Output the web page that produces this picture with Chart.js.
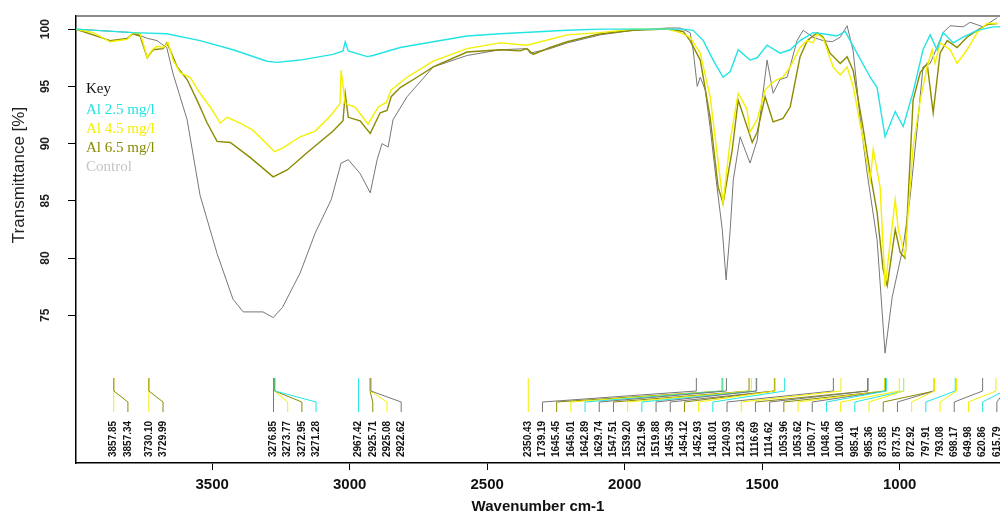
<!DOCTYPE html>
<html>
<head>
<meta charset="utf-8">
<script src="https://cdn.jsdelivr.net/npm/chart.js@4/dist/chart.umd.min.js"></script>
<style>
  html, body { margin: 0; padding: 0; background: #fff; }
  #wrap { width: 1000px; height: 516px; }
</style>
</head>
<body>
<div id="wrap"><canvas id="ftir" width="1000" height="516"></canvas></div>
<script>
// spectra (wavenumber cm-1 / transmittance %)
const cyanWn = [3995, 3788, 3665, 3544, 3424, 3300, 3264, 3180, 3060, 3024, 3016, 3005, 2936, 2915, 2816, 2696, 2573, 2453, 2209, 2089, 1907, 1787, 1751, 1714, 1678, 1642, 1616, 1587, 1544, 1518, 1482, 1435, 1398, 1362, 1315, 1278, 1228, 1198, 1155, 1107, 1082, 1053, 1016, 987, 951, 915, 889, 864, 842, 805, 769, 718, 660, 635]
const cyanT = [100, 99.7, 99.6, 99.0, 98.2, 97.2, 97.1, 97.3, 97.8, 98.1, 98.9, 98.1, 97.6, 97.7, 98.4, 98.9, 99.4, 99.6, 99.9, 100, 100, 100, 99.9, 99.0, 97.3, 95.8, 96.3, 98.2, 97.3, 97.5, 98.6, 97.9, 98.2, 99.0, 99.7, 99.6, 99.4, 99.8, 97.9, 95.8, 94.9, 90.6, 92.8, 91.5, 94.5, 98.2, 99.5, 98.2, 99.7, 98.8, 99.3, 99.9, 100.2, 100.2]

const yellowWn = [3995, 3933, 3871, 3809, 3788, 3762, 3751, 3736, 3718, 3700, 3678, 3660, 3642, 3616, 3580, 3544, 3507, 3471, 3445, 3398, 3353, 3302, 3273, 3244, 3180, 3125, 3067, 3035, 3031, 3016, 2980, 2933, 2896, 2867, 2849, 2791, 2696, 2573, 2453, 2355, 2209, 2089, 1969, 1845, 1798, 1762, 1725, 1689, 1664, 1642, 1616, 1587, 1555, 1544, 1518, 1489, 1464, 1445, 1424, 1398, 1362, 1336, 1315, 1300, 1278, 1242, 1216, 1191, 1169, 1133, 1107, 1096, 1071, 1053, 1016, 1005, 980, 969, 951, 925, 900, 882, 871, 853, 816, 791, 755, 718, 682, 645]
const yellowT = [100, 99.7, 98.9, 99.1, 99.7, 99.6, 98.8, 97.5, 98.2, 98.5, 98.4, 98.8, 97.3, 96.2, 95.8, 94.4, 93.2, 91.8, 92.3, 91.8, 91.2, 90.0, 89.3, 89.6, 90.6, 91.1, 92.5, 93.5, 96.4, 93.5, 93.2, 91.7, 93.2, 93.6, 94.7, 95.8, 97.2, 98.3, 98.8, 98.6, 99.5, 99.7, 100, 100, 99.7, 99.3, 97.9, 94.1, 89.2, 84.8, 90.3, 94.4, 93.0, 91.0, 92.1, 94.7, 95.3, 95.6, 95.8, 96.7, 98.4, 99.0, 98.8, 99.6, 99.2, 96.7, 96.0, 96.7, 95.0, 90.4, 86.8, 89.5, 86.2, 77.5, 85.1, 82.5, 80.2, 84.0, 89.7, 93.8, 96.7, 98.2, 97.0, 98.8, 98.2, 97.0, 98.2, 99.7, 100.5, 100.5]

const oliveWn = [3995, 3871, 3809, 3788, 3762, 3736, 3715, 3678, 3665, 3653, 3627, 3591, 3555, 3518, 3482, 3434, 3362, 3278, 3227, 3155, 3060, 3024, 3016, 3005, 2962, 2925, 2889, 2864, 2849, 2816, 2755, 2696, 2573, 2453, 2380, 2355, 2333, 2271, 2209, 2089, 1969, 1845, 1787, 1762, 1725, 1689, 1660, 1642, 1609, 1587, 1555, 1536, 1518, 1489, 1460, 1424, 1398, 1362, 1336, 1300, 1278, 1253, 1216, 1191, 1169, 1133, 1107, 1082, 1060, 1045, 1016, 998, 980, 951, 925, 900, 878, 853, 827, 791, 755, 718, 682, 645]
const oliveT = [100, 99.0, 99.2, 99.6, 99.4, 97.5, 98.2, 98.3, 98.8, 98.2, 96.7, 95.6, 93.8, 91.8, 90.2, 90.1, 88.8, 87.1, 87.7, 89.2, 91.1, 92.0, 94.4, 92.3, 92.0, 90.9, 92.7, 92.9, 94.1, 94.9, 95.8, 96.7, 98.0, 98.2, 98.1, 98.3, 97.8, 98.4, 98.9, 99.6, 99.9, 100, 99.8, 99.0, 97.3, 92.3, 86.2, 84.8, 89.4, 93.8, 91.5, 90.1, 91.0, 94.1, 91.9, 92.2, 93.2, 97.6, 99.0, 99.7, 99.3, 97.9, 97.0, 97.6, 96.4, 91.4, 87.4, 84.0, 79.0, 77.6, 82.5, 80.5, 80.0, 93.8, 96.2, 97.0, 92.7, 97.9, 99.0, 98.4, 99.3, 99.9, 100.4, 100.5]

const controlWn = [3995, 3788, 3736, 3700, 3678, 3665, 3642, 3591, 3544, 3482, 3424, 3387, 3315, 3278, 3244, 3180, 3125, 3067, 3031, 3005, 2962, 2925, 2900, 2882, 2860, 2842, 2791, 2696, 2573, 2453, 2355, 2344, 2271, 2209, 2089, 1969, 1845, 1798, 1762, 1751, 1736, 1725, 1707, 1689, 1664, 1645, 1631, 1616, 1605, 1580, 1544, 1518, 1482, 1460, 1435, 1409, 1373, 1351, 1315, 1278, 1245, 1216, 1191, 1169, 1144, 1118, 1082, 1053, 1027, 987, 962, 936, 915, 889, 864, 842, 816, 769, 744, 696, 645]
const controlT = [100, 99.7, 99.2, 99.0, 98.6, 98.4, 96.1, 92.1, 85.5, 80.4, 76.4, 75.3, 75.3, 74.8, 75.7, 78.7, 82.2, 85.1, 88.3, 88.6, 87.4, 85.7, 88.6, 90.0, 89.7, 92.1, 94.1, 96.7, 97.7, 98.2, 98.3, 97.9, 98.3, 98.8, 99.5, 99.9, 100.1, 100.1, 99.7, 98.2, 95.0, 95.8, 94.7, 91.4, 86.2, 82.5, 78.1, 82.5, 86.8, 90.6, 88.3, 90.3, 97.3, 94.4, 95.6, 95.8, 99.0, 99.9, 99.3, 99.0, 98.9, 99.3, 100.3, 98.1, 92.3, 87.4, 81.6, 71.7, 76.6, 81.0, 85.3, 91.4, 96.7, 97.0, 98.4, 99.7, 100.3, 100.2, 100.6, 100.2, 101.0]

const seriesNames = ['Al 2.5 mg/l', 'Al 4.5 mg/l', 'Al 6.5 mg/l', 'Control']
const seriesColors = ['#22e4e4', '#f4f000', '#8b8b00', '#777777']
const legendColors = ['#22e4e4', '#f4f000', '#8b8b00', '#c4c4c4']

const xTicks = [3500, 3000, 2500, 2000, 1500, 1000]
const yTicks = [75, 80, 85, 90, 95, 100]

// picked peaks, grouped the way the labels are spread; series index per peak
const peakGroups = [
  [3857.85, 3857.34],
  [3730.10, 3729.99],
  [3276.85, 3273.77, 3272.95, 3271.28],
  [2967.42, 2925.71, 2925.08, 2922.62],
  [2350.43, 1739.19, 1645.45, 1645.01, 1642.89, 1629.74, 1547.51, 1539.20, 1521.96, 1519.88, 1455.39, 1454.12, 1452.93, 1418.01, 1240.93, 1213.26, 1116.69, 1114.62, 1053.96, 1053.62, 1050.77, 1048.45, 1001.08, 985.41, 985.36, 873.85, 873.75, 872.92, 797.91, 793.08, 698.17, 649.98, 620.86, 615.79],
]
const peakSeries = [
  [1, 2],
  [1, 2],
  [3, 1, 2, 0],
  [0, 2, 1, 3],
  [1, 3, 2, 1, 0, 3, 2, 1, 0, 3, 3, 2, 1, 0, 3, 1, 2, 3, 2, 1, 3, 0, 1, 0, 1, 2, 3, 1, 0, 1, 3, 1, 0, 3],
]

const toPoints = (wn, t) => wn.map((w, i) => ({ x: w, y: t[i] }))
const spectra = [toPoints(cyanWn, cyanT), toPoints(yellowWn, yellowT), toPoints(oliveWn, oliveT), toPoints(controlWn, controlT)]

// R style extras: y labels, key, peak labels, top frame line
const extras = {
  id: 'extras',
  afterDraw(chart) {
    const ctx = chart.ctx
    const area = chart.chartArea
    const xs = chart.scales.x
    const ys = chart.scales.y
    ctx.save()

    ctx.strokeStyle = '#666'
    ctx.lineWidth = 1.5
    ctx.beginPath()
    ctx.moveTo(area.left, area.top)
    ctx.lineTo(area.right, area.top)
    ctx.stroke()

    // y tick labels, rotated
    ctx.fillStyle = '#222'
    ctx.font = 'bold 12px "Liberation Sans", Arial'
    ctx.textAlign = 'center'
    ctx.textBaseline = 'middle'
    yTicks.forEach(v => {
      ctx.save()
      ctx.translate(46, ys.getPixelForValue(v))
      ctx.rotate(-Math.PI / 2)
      ctx.fillText(String(v), 0, 0)
      ctx.restore()
    })

    // y title
    ctx.save()
    ctx.translate(19, 175)
    ctx.rotate(-Math.PI / 2)
    ctx.font = '17px "Liberation Sans", Arial'
    ctx.fillText('Transmittance [%]', 0, 0)
    ctx.restore()

    // key
    ctx.textAlign = 'left'
    ctx.font = '15px "Liberation Serif", "Times New Roman", serif'
    ctx.fillStyle = '#111'
    ctx.fillText('Key', 86, 89)
    seriesNames.forEach((n, i) => {
      ctx.fillStyle = legendColors[i]
      ctx.fillText(n, 86, 110 + i * 19)
    })

    // peak labels with leader lines
    const gap = 14.2
    ctx.lineWidth = 1
    ctx.font = 'bold 10px "Liberation Sans", Arial'
    peakGroups.forEach((group, g) => {
      const x0 = xs.getPixelForValue(group[0])
      group.forEach((wn, i) => {
        const px = xs.getPixelForValue(wn)
        const lx = x0 + i * gap
        ctx.strokeStyle = seriesColors[peakSeries[g][i]]
        ctx.beginPath()
        ctx.moveTo(px, 378)
        if (Math.abs(px - lx) < 0.5) {
          ctx.lineTo(lx, 412)
        } else {
          ctx.lineTo(px, 391)
          ctx.lineTo(lx, 402)
          ctx.lineTo(lx, 412)
        }
        ctx.stroke()
        ctx.save()
        ctx.translate(lx, 457)
        ctx.rotate(-Math.PI / 2)
        ctx.fillStyle = '#111'
        ctx.textAlign = 'left'
        ctx.fillText(wn.toFixed(2), 0, 0)
        ctx.restore()
      })
    })
    ctx.restore()
  },
}

new Chart(document.getElementById('ftir'), {
  type: 'line',
  data: {
    datasets: spectra.map((pts, i) => ({
      label: seriesNames[i],
      data: pts,
      borderColor: seriesColors[i],
      borderWidth: i === 3 ? 1 : 1.4,
      pointRadius: 0,
      tension: 0,
      fill: false,
    })),
  },
  options: {
    responsive: false,
    animation: false,
    maintainAspectRatio: false,
    layout: { padding: { left: 0, right: 0, top: 16, bottom: 0 } },
    plugins: { legend: { display: false }, tooltip: { enabled: false } },
    scales: {
      x: {
        type: 'linear',
        reverse: true,
        min: 635,
        max: 3995,
        afterBuildTicks: s => { s.ticks = xTicks.map(v => ({ value: v })) },
        afterFit: s => { s.height = 53 },
        grid: { display: true, drawOnChartArea: false, tickLength: 7, color: '#000' },
        border: { display: true, color: '#000', width: 1.5 },
        ticks: {
          color: '#111',
          padding: 6,
          maxRotation: 0,
          callback: v => String(v),
          font: { family: '"Liberation Sans", Arial', size: 15, weight: 'bold' },
        },
        title: {
          display: true,
          text: 'Wavenumber cm-1',
          color: '#111',
          padding: { top: 0, bottom: 0 },
          font: { family: '"Liberation Sans", Arial', size: 15, weight: 'bold' },
        },
      },
      y: {
        min: 62.1,
        max: 101.15,
        afterBuildTicks: s => { s.ticks = yTicks.map(v => ({ value: v })) },
        afterFit: s => { s.width = 76 },
        grid: { display: true, drawOnChartArea: false, tickLength: 8, color: '#000' },
        border: { display: true, color: '#000', width: 1.5 },
        ticks: { display: false },
      },
    },
  },
  plugins: [extras],
})
</script>
</body>
</html>
